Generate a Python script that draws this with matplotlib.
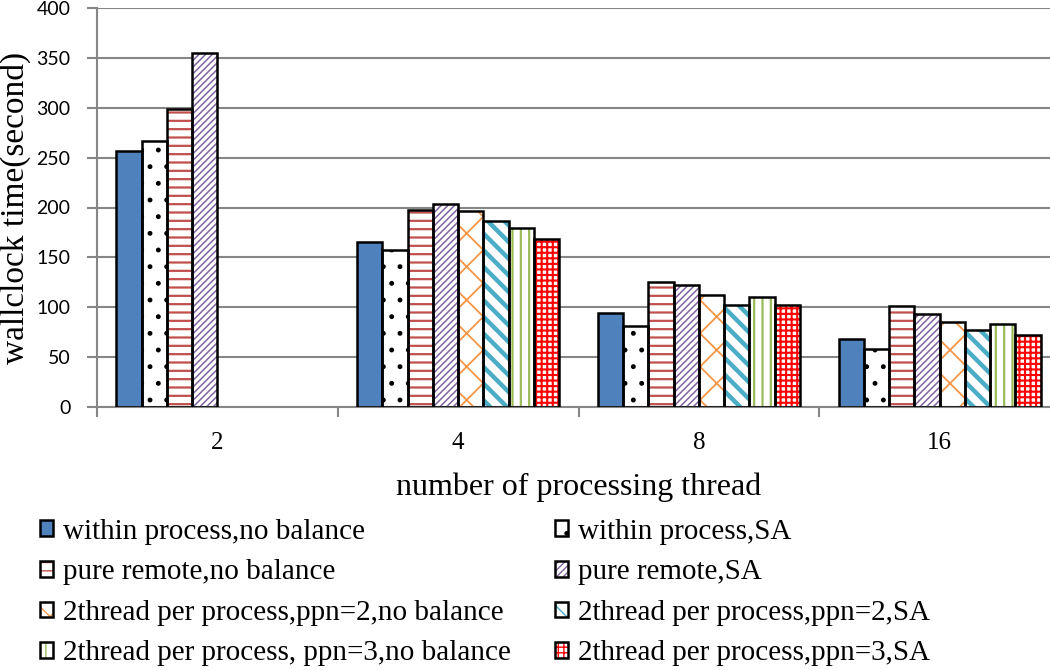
import matplotlib
matplotlib.use("Agg")
import matplotlib.pyplot as plt
import numpy as np

# wallclock time (second) per number of processing threads
threads = ["2", "4", "8", "16"]
within_nb = [257, 165, 94, 68]
within_sa = [267, 157, 81, 58]
remote_nb = [299, 197, 125, 101]
remote_sa = [355, 204, 122, 93]
ppn2_nb = [0, 196, 112, 85]
ppn2_sa = [0, 186, 102, 77]
ppn3_nb = [0, 179, 110, 83]
ppn3_sa = [0, 168, 102, 72]

labels = [
    "within process,no balance", "within process,SA",
    "pure remote,no balance", "pure remote,SA",
    "2thread per process,ppn=2,no balance", "2thread per process,ppn=2,SA",
    "2thread per process, ppn=3,no balance", "2thread per process,ppn=3,SA",
]
series = [within_nb, within_sa, remote_nb, remote_sa,
          ppn2_nb, ppn2_sa, ppn3_nb, ppn3_sa]

# (face, hatch, hatch colour, hatch linewidth)
styles = [
    ("#4F81BD", None, None, 1.0),
    ("white", ".", "black", 1.1),
    ("white", "--", "#C0504D", 1.6),
    ("white", "/////", "#8064A2", 1.1),
    ("white", "x", "#F79646", 1.3),
    ("white", "\\\\", "#4BACC6", 3.2),
    ("white", "||", "#9BBB59", 1.6),
    ("white", "+++", "#FF0000", 1.5),
]

serif = "Liberation Serif"
grid_c = "#868686"

fig = plt.figure(figsize=(10.5, 6.7), dpi=100)
ax = fig.add_axes([97 / 1050, 1 - 407 / 670, (1060 - 97) / 1050, 399 / 670])

x = np.arange(len(threads))
width = 0.105
handles = []
for i, (vals, (fc, hatch, hc, hlw)) in enumerate(zip(series, styles)):
    vals = np.array(vals, dtype=float)
    keep = vals > 0
    pos = x[keep] + (i - 3.5) * width
    with plt.rc_context({"hatch.linewidth": hlw, "hatch.color": hc or "black"}):
        fill = ax.bar(pos, vals[keep], width, color=fc, edgecolor=hc or fc,
                      hatch=hatch, linewidth=0, zorder=2)
    edge = ax.bar(pos, vals[keep], width, facecolor="none", edgecolor="black",
                  linewidth=1.8, zorder=3)
    handles.append((fill.patches[0], edge.patches[0]))

ax.set_ylim(0, 400)
ax.set_xlim(-0.5, len(threads) - 0.5)
ax.set_yticks(np.arange(0, 401, 50))
ax.yaxis.grid(True, color=grid_c, linewidth=1.5)
ax.set_axisbelow(True)

ax.set_xticks(x)
ax.set_xticklabels(threads, fontfamily=serif, fontsize=18)
ax.set_xticks(np.arange(len(threads) + 1) - 0.5, minor=True)
ax.tick_params(axis="x", which="major", length=0, pad=18)
ax.tick_params(axis="x", which="minor", length=7, width=1.5, color=grid_c)
ax.tick_params(axis="y", length=7, width=1.5, color=grid_c, labelsize=14, pad=12)
for t in ax.get_yticklabels():
    t.set_fontfamily("Lato")

for s in ["top", "right"]:
    ax.spines[s].set_visible(False)
for s in ["left", "bottom"]:
    ax.spines[s].set_color(grid_c)
    ax.spines[s].set_linewidth(1.5)

ax.set_ylabel("wallclock time(second)", fontfamily=serif, fontsize=24, labelpad=4)
ax.set_xlabel("number of processing thread", fontfamily=serif, fontsize=23, labelpad=13)

order = [0, 2, 4, 6, 1, 3, 5, 7]
fig.legend([handles[k] for k in order], [labels[k] for k in order],
           ncol=2, loc="upper left", bbox_to_anchor=(0.038, 0.226),
           frameon=False, prop={"family": serif, "size": 21},
           handlelength=0.45, handleheight=0.45, handletextpad=0.35,
           labelspacing=0.5, columnspacing=1.5, borderaxespad=0, borderpad=0)

fig.savefig("out.png", dpi=100)
